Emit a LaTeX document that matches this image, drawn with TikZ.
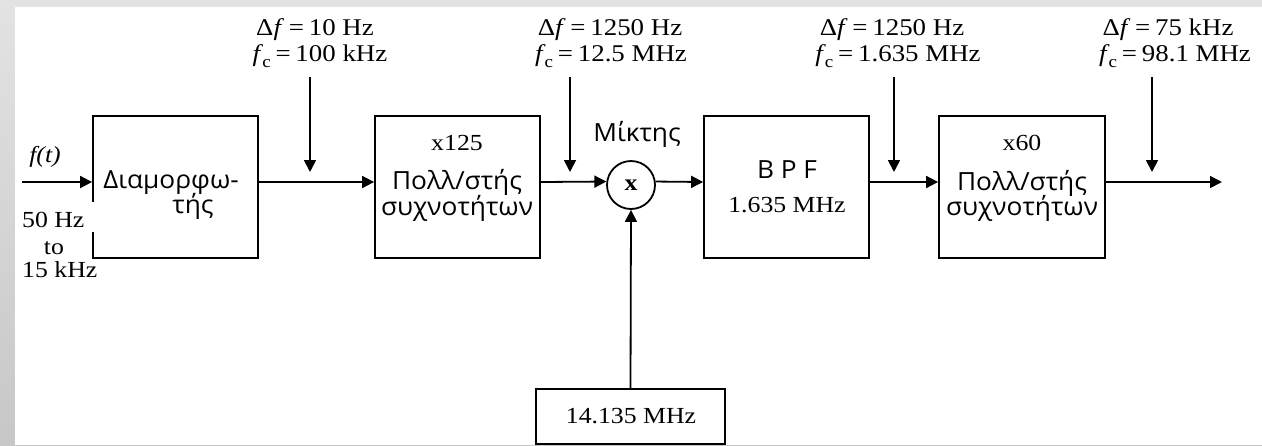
\documentclass[tikz,border=0pt]{standalone}
\usepackage{fontspec}
\setmainfont{Liberation Serif}[FakeStretch=1.12]
\newfontfamily\grk{Open Sans}[FakeStretch=1.05]
\usetikzlibrary{arrows.meta}
\newcommand{\myfc}{\textit{f}\kern-0.04em\raisebox{-0.28em}{\fontsize{17}{17}\selectfont c}}
\newcommand{\mydf}{Δ\textit{f}}
\newcommand{\myeq}{\hspace{0.2em}=\hspace{0.2em}}
\begin{document}
\begin{tikzpicture}[x=1pt,y=-1pt,
  blk/.style={draw, line width=1.8pt, minimum width=165pt, minimum height=142pt, inner sep=0pt},
  ln/.style={line width=1.8pt},
  arr/.style={ln, -{Triangle[length=12pt,width=12pt]}},
  ser/.style={font=\fontsize{23}{27}\selectfont, inner sep=0pt},
  lbl/.style={font=\fontsize{24}{28}\selectfont, inner sep=0pt, anchor=base},
  gk/.style={font=\grk\fontsize{25}{29}\selectfont, inner sep=0pt},
]
\useasboundingbox (0,0) rectangle (1262,445);
\shade[top color=black!11, bottom color=black!22] (0,0) rectangle (1262,445);
\fill[white] (15,7) rectangle (1262,445);

% blocks
\node[blk] (b1) at (175.5,187) {};
\node[blk] (b2) at (457.5,187) {};
\node[blk] (b3) at (786.5,187) {};
\node[blk, minimum width=166pt] (b4) at (1022,187) {};
\node[draw, line width=1.8pt, minimum width=189pt, minimum height=55pt, inner sep=0pt] (osc) at (630.5,416.5) {};
\node[draw, circle, line width=1.8pt, minimum size=48pt, inner sep=0pt] (mix) at (631,185) {};

% gap in the left edge of the first block
\fill[white] (89,202) rectangle (97,232);

% texts in blocks
\node[gk, anchor=base] (t1a) at (171,188) {Διαμορφω-};
\node[gk, anchor=base] (t1b) at (193,213) {τής};
\node[ser, anchor=base] (t2a) at (457,150) {x125};
\node[gk, anchor=base] (t2b) at (457,189) {Πολλ/στής};
\node[gk, anchor=base] (t2c) at (457,215) {συχνοτήτων};
\node[gk, anchor=base] (t3a) at (787,178) {B P F};
\node[ser, anchor=base] (t3b) at (787,212) {1.635 MHz};
\node[ser, anchor=base] (t4a) at (1022,150) {x60};
\node[gk, anchor=base] (t4b) at (1022,190) {Πολλ/στής};
\node[gk, anchor=base] (t4c) at (1022,215) {συχνοτήτων};
\node[ser, anchor=base] (tosc) at (631,423) {14.135 MHz};
\node[ser, font=\fontsize{23}{27}\selectfont\bfseries] (tmix) at (mix) {x};
\node[gk, anchor=base] (tmixl) at (637,141) {Μίκτης};

% input labels
\node[ser, anchor=base] (ft) at (45,162) {\textit{f(t)}};
\node[ser, anchor=base west] (r1) at (22,227) {50 Hz};
\node[ser, anchor=base] (r2) at (54,254) {to};
\node[ser, anchor=base west] (r3) at (22,277) {15 kHz};

% top labels
\node[lbl] (l1a) at (315,35) {\mydf\myeq10 Hz};
\node[lbl] (l1b) at (320,61) {\myfc\myeq100 kHz};
\node[lbl] (l2a) at (610,35) {\mydf\myeq1250 Hz};
\node[lbl] (l2b) at (611,61) {\myfc\myeq12.5 MHz};
\node[lbl] (l3a) at (892,35) {\mydf\myeq1250 Hz};
\node[lbl] (l3b) at (898,61) {\myfc\myeq1.635 MHz};
\node[lbl] (l4a) at (1168,35) {\mydf\myeq75 kHz};
\node[lbl] (l4b) at (1175,61) {\myfc\myeq98.1 MHz};

% coordinates
\coordinate (in) at (22,182);
\coordinate (out) at (1222,182);
\coordinate (d1s) at (310,77);  \coordinate (d1e) at (310,172);
\coordinate (d2s) at (570,77);  \coordinate (d2e) at (570,172);
\coordinate (d3s) at (894,77);  \coordinate (d3e) at (894,172);
\coordinate (d4s) at (1152,77); \coordinate (d4e) at (1152,172);

% connectors
\draw[arr] (in) -- ([yshift=5pt]b1.west);
\draw[arr] ([yshift=5pt]b1.east) -- ([yshift=5pt]b2.west);
\draw[arr] ([yshift=5pt]b2.east) -- (mix.172);
\draw[arr] (mix.8) -- ([yshift=5pt]b3.west);
\draw[arr] ([yshift=5pt]b3.east) -- ([yshift=5pt]b4.west);
\draw[arr] ([yshift=5pt]b4.east) -- (out);
\draw[arr] (osc.north) -- (mix.south);
\draw[arr] (d1s) -- (d1e);
\draw[arr] (d2s) -- (d2e);
\draw[arr] (d3s) -- (d3e);
\draw[arr] (d4s) -- (d4e);
\end{tikzpicture}
\end{document}
